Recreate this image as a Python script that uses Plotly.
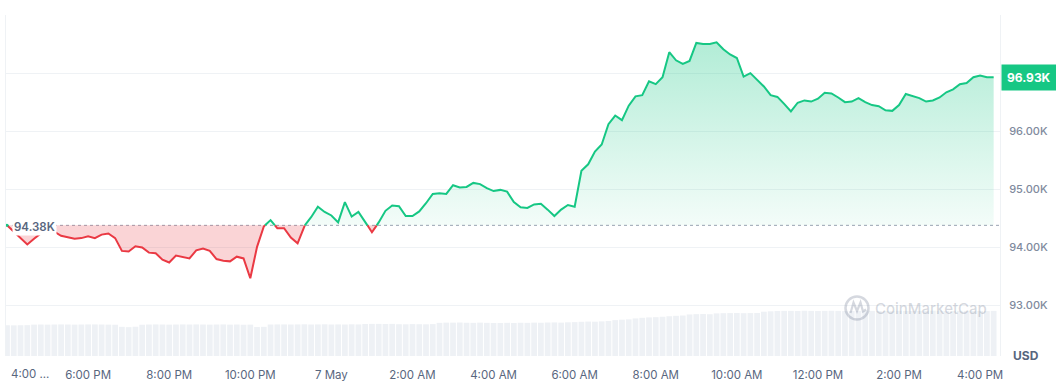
import numpy as np
import pandas as pd
import plotly.graph_objects as go

# ---------------- data ----------------
start_time = "2025-05-06 16:00"
step = "10min"
base_price = 94.38          # open price of the period (dotted reference line)
last_price_label = "96.93K"

price = [
    94.38, 94.27, 94.15, 94.05, 94.15, 94.24, 94.28, 94.27, 94.20, 94.17,
    94.15, 94.16, 94.19, 94.16, 94.22, 94.24, 94.16, 93.94, 93.93, 94.02,
    94.00, 93.91, 93.90, 93.79, 93.74, 93.86, 93.84, 93.81, 93.95, 93.98,
    93.94, 93.80, 93.77, 93.76, 93.84, 93.81, 93.47, 94.01, 94.36, 94.47,
    94.33, 94.33, 94.17, 94.07, 94.37, 94.52, 94.70, 94.61, 94.55, 94.43,
    94.78, 94.53, 94.61, 94.44, 94.26, 94.43, 94.63, 94.72, 94.71, 94.54,
    94.54, 94.62, 94.76, 94.92, 94.93, 94.92, 95.07, 95.03, 95.04, 95.11,
    95.09, 95.02, 94.97, 94.99, 94.96, 94.78, 94.69, 94.68, 94.74, 94.75,
    94.65, 94.54, 94.65, 94.73, 94.70, 95.32, 95.43, 95.65, 95.77, 96.12,
    96.27, 96.19, 96.44, 96.60, 96.62, 96.86, 96.81, 96.93, 97.36, 97.22,
    97.16, 97.21, 97.52, 97.50, 97.50, 97.53, 97.41, 97.32, 97.26, 96.94,
    97.00, 96.88, 96.77, 96.62, 96.59, 96.47, 96.34, 96.49, 96.53, 96.51,
    96.56, 96.66, 96.65, 96.58, 96.50, 96.51, 96.57, 96.50, 96.45, 96.43,
    96.36, 96.35, 96.45, 96.64, 96.60, 96.57, 96.51, 96.53, 96.58, 96.67,
    96.72, 96.81, 96.83, 96.93, 96.96, 96.93, 96.93,
]

# 24h rolling volume (billions USD)
volume = [
    29.3, 29.2, 29.3, 29.4,
    29.9, 30.0, 29.9, 30.0, 30.1, 30.0, 29.9, 30.0, 30.1, 30.1, 30.0, 29.9, 29.8,
    27.8, 27.5, 27.9,
    29.8, 30.0, 30.1, 30.0, 29.9, 30.0, 30.1, 30.0, 30.1, 30.0, 29.9, 30.0, 30.1, 29.9, 30.0, 29.8, 29.9,
    27.6, 27.8,
    30.0, 30.1, 30.1, 30.0, 30.1, 30.2, 30.0, 30.1, 30.2, 30.0, 30.1, 30.0, 30.2, 30.1,
    30.5, 30.6, 30.6, 30.5, 30.6,
    30.3, 30.2, 30.4, 30.3, 30.2, 30.4,
    31.6, 31.8, 31.8, 31.9, 31.7, 31.6, 31.8, 31.6, 31.5,
    31.4, 31.6, 31.5, 31.7, 31.6, 31.8, 31.7, 31.9, 32.0, 31.8, 32.1, 32.3,
    32.6, 32.8, 32.7, 33.0, 33.4,
    34.2, 34.6, 34.9,
    35.8, 36.4, 36.8, 37.0,
    37.4, 37.9, 38.3, 38.6,
    39.6, 39.9, 40.0, 39.8,
    40.6, 40.8, 40.9, 41.0, 40.8, 40.9, 41.0,
    42.2, 42.6, 42.9, 43.0, 43.0, 42.9, 43.1, 43.0, 42.9, 43.0,
    43.1, 43.0, 42.8, 42.9, 43.0, 43.1, 43.0, 42.9, 42.8, 43.0,
    43.1, 43.0, 42.9, 43.0, 43.1, 43.2, 43.0, 42.9, 43.0, 43.1,
    43.0, 42.9, 43.0, 42.8, 43.0,
]

x_tick_text = ["6:00 PM", "8:00 PM", "10:00 PM", "7 May", "2:00 AM", "4:00 AM",
               "6:00 AM", "8:00 AM", "10:00 AM", "12:00 PM", "2:00 PM", "4:00 PM"]
first_tick_text = "4:00 ..."
y_tick_vals = [93, 94, 95, 96, 97, 98]
y_tick_text = ["93.00K", "94.00K", "95.00K", "96.00K", "", ""]

# ---------------- styling ----------------
GREEN = "#16c784"
RED = "#ea3943"
GRID = "#eff2f5"
FONT = "Inter"
W, H = 1056, 381
ML, MR, MT, MB = 6, 56, 15, 25

n = min(len(price), len(volume))
price = price[:n]
volume = volume[:n]
ts = pd.date_range(start_time, periods=n, freq=step)
t0 = ts[0]

# split the series where it crosses the base price (for two-colour line/fill)
tn = ts.asi8.astype(float)
p = np.array(price, dtype=float)
ext_t, ext_p = [tn[0]], [p[0]]
for i in range(1, n):
    a, b = p[i - 1] - base_price, p[i] - base_price
    if a * b < 0:
        f = a / (a - b)
        ext_t.append(tn[i - 1] + f * (tn[i] - tn[i - 1]))
        ext_p.append(base_price)
    ext_t.append(tn[i])
    ext_p.append(p[i])
ext_t = pd.to_datetime(np.array(ext_t).astype("int64"))
ext_p = np.array(ext_p)

green_fill = np.maximum(ext_p, base_price)
red_fill = np.minimum(ext_p, base_price)
green_line = [v if v >= base_price else None for v in ext_p]
red_line = [v if v <= base_price else None for v in ext_p]
base_arr = [base_price] * len(ext_p)

fig = go.Figure()

# volume bars (secondary axis)
fig.add_trace(go.Bar(x=ts, y=volume, yaxis="y2", marker=dict(color="#eef1f5", line=dict(width=0)),
                     hoverinfo="skip", showlegend=False))

# red fill
fig.add_trace(go.Scatter(x=ext_t, y=base_arr, mode="lines", line=dict(width=0),
                         hoverinfo="skip", showlegend=False))
fig.add_trace(go.Scatter(x=ext_t, y=red_fill, mode="lines", line=dict(width=0), fill="tonexty",
                         fillcolor="rgba(234,57,67,0.22)", hoverinfo="skip", showlegend=False))
# green fill (gradient)
fig.add_trace(go.Scatter(x=ext_t, y=base_arr, mode="lines", line=dict(width=0),
                         hoverinfo="skip", showlegend=False))
fig.add_trace(go.Scatter(x=ext_t, y=green_fill, mode="lines", line=dict(width=0), fill="tonexty",
                         fillgradient=dict(type="vertical",
                                           colorscale=[[0, "rgba(22,199,132,0.05)"],
                                                       [1, "rgba(22,199,132,0.33)"]],
                                           start=base_price, stop=max(price)),
                         hoverinfo="skip", showlegend=False))
# lines
fig.add_trace(go.Scatter(x=ext_t, y=red_line, mode="lines", line=dict(color=RED, width=2),
                         connectgaps=False, hoverinfo="skip", showlegend=False))
fig.add_trace(go.Scatter(x=ext_t, y=green_line, mode="lines", line=dict(color=GREEN, width=2),
                         connectgaps=False, hoverinfo="skip", showlegend=False))
fig.add_trace(go.Scatter(x=[ts[0]], y=[price[0]], mode="markers",
                         marker=dict(color=GREEN, size=3), hoverinfo="skip", showlegend=False))

plot_w = W - ML - MR
plot_h = H - MT - MB


def px(x):
    return (x - ML) / plot_w


def py(y):
    return (H - MB - y) / plot_h


x_range = [t0 - pd.Timedelta(minutes=1.5), t0 + pd.Timedelta(minutes=1469.4)]
tick_vals = [t0 + pd.Timedelta(hours=2 * i) for i in range(1, 13)]

fig.update_layout(
    width=W, height=H,
    margin=dict(l=ML, r=MR, t=MT, b=MB),
    paper_bgcolor="white", plot_bgcolor="white",
    hovermode=False, showlegend=False, bargap=0.15,
    font=dict(family=FONT),
    xaxis=dict(type="date", range=x_range, tickvals=tick_vals, ticktext=x_tick_text,
               showgrid=False, zeroline=False, showline=False, ticks="", automargin=False,
               tickfont=dict(family=FONT, size=11.5, color="#58667e"), ticklabelstandoff=10),
    yaxis=dict(side="right", range=[92.131, 98.0], tickvals=y_tick_vals, ticktext=y_tick_text,
               showgrid=True, gridcolor=GRID, gridwidth=1, zeroline=False, automargin=False,
               showline=True, mirror=True, linecolor=GRID, linewidth=1, ticks="",
               tickfont=dict(family=FONT, size=11, color="#808a9d", weight=500),
               ticklabelstandoff=6),
    yaxis2=dict(overlaying="y", range=[0, 325], visible=False),
    shapes=[
        dict(type="line", xref="paper", yref="y", x0=0, x1=1, y0=base_price, y1=base_price,
             line=dict(color="#9aa3b2", width=1, dash="dot"), layer="below"),
        dict(type="circle", xref="paper", yref="paper",
             x0=px(845.5), x1=px(868.5), y0=py(319.5), y1=py(296.5),
             line=dict(color="rgba(128,138,157,0.33)", width=2.5)),
        dict(type="path", xref="paper", yref="paper",
             path=(f"M {px(850.5)} {py(313)} L {px(853.5)} {py(302.5)} L {px(857)} {py(311)} "
                   f"L {px(860.5)} {py(302.5)} L {px(863)} {py(311.5)} L {px(866)} {py(309.5)}"),
             line=dict(color="rgba(128,138,157,0.33)", width=2.2)),
    ],
    annotations=[
        dict(text=f"{base_price:.2f}K", xref="paper", yref="y", x=px(12), y=base_price,
             xanchor="left", yanchor="middle", showarrow=False, bgcolor="white", borderpad=1,
             yshift=-2, font=dict(family=FONT, size=11.5, color="#58667e", weight=600)),
        dict(text=last_price_label, xref="paper", yref="y", x=px(1001), y=price[-1],
             xanchor="left", yanchor="middle", showarrow=False, bgcolor=GREEN, borderpad=5,
             font=dict(family=FONT, size=12, color="white", weight=700)),
        dict(text="USD", xref="paper", yref="paper", x=px(1026), y=py(355),
             xanchor="center", yanchor="middle", showarrow=False,
             font=dict(family=FONT, size=12, color="#58667e", weight=700)),
        dict(text=first_tick_text, xref="paper", yref="paper", x=px(9), y=py(374),
             xanchor="left", yanchor="middle", showarrow=False,
             font=dict(family=FONT, size=11.5, color="#58667e")),
        dict(text="CoinMarketCap", xref="paper", yref="paper", x=px(931), y=py(308),
             xanchor="center", yanchor="middle", showarrow=False,
             font=dict(family=FONT, size=15, color="rgba(128,138,157,0.33)", weight=500)),
        dict(text="▲", xref="x", yref="paper", x=t0 + pd.Timedelta(minutes=1360), y=py(384),
             xanchor="center", yanchor="middle", showarrow=False,
             font=dict(family="DejaVu Sans", size=10, color="#8d4cf5")),
    ],
)

fig.write_html("out.html", config={"displayModeBar": False},
               post_script="document.body.style.margin='0';document.body.style.overflow='hidden';")
